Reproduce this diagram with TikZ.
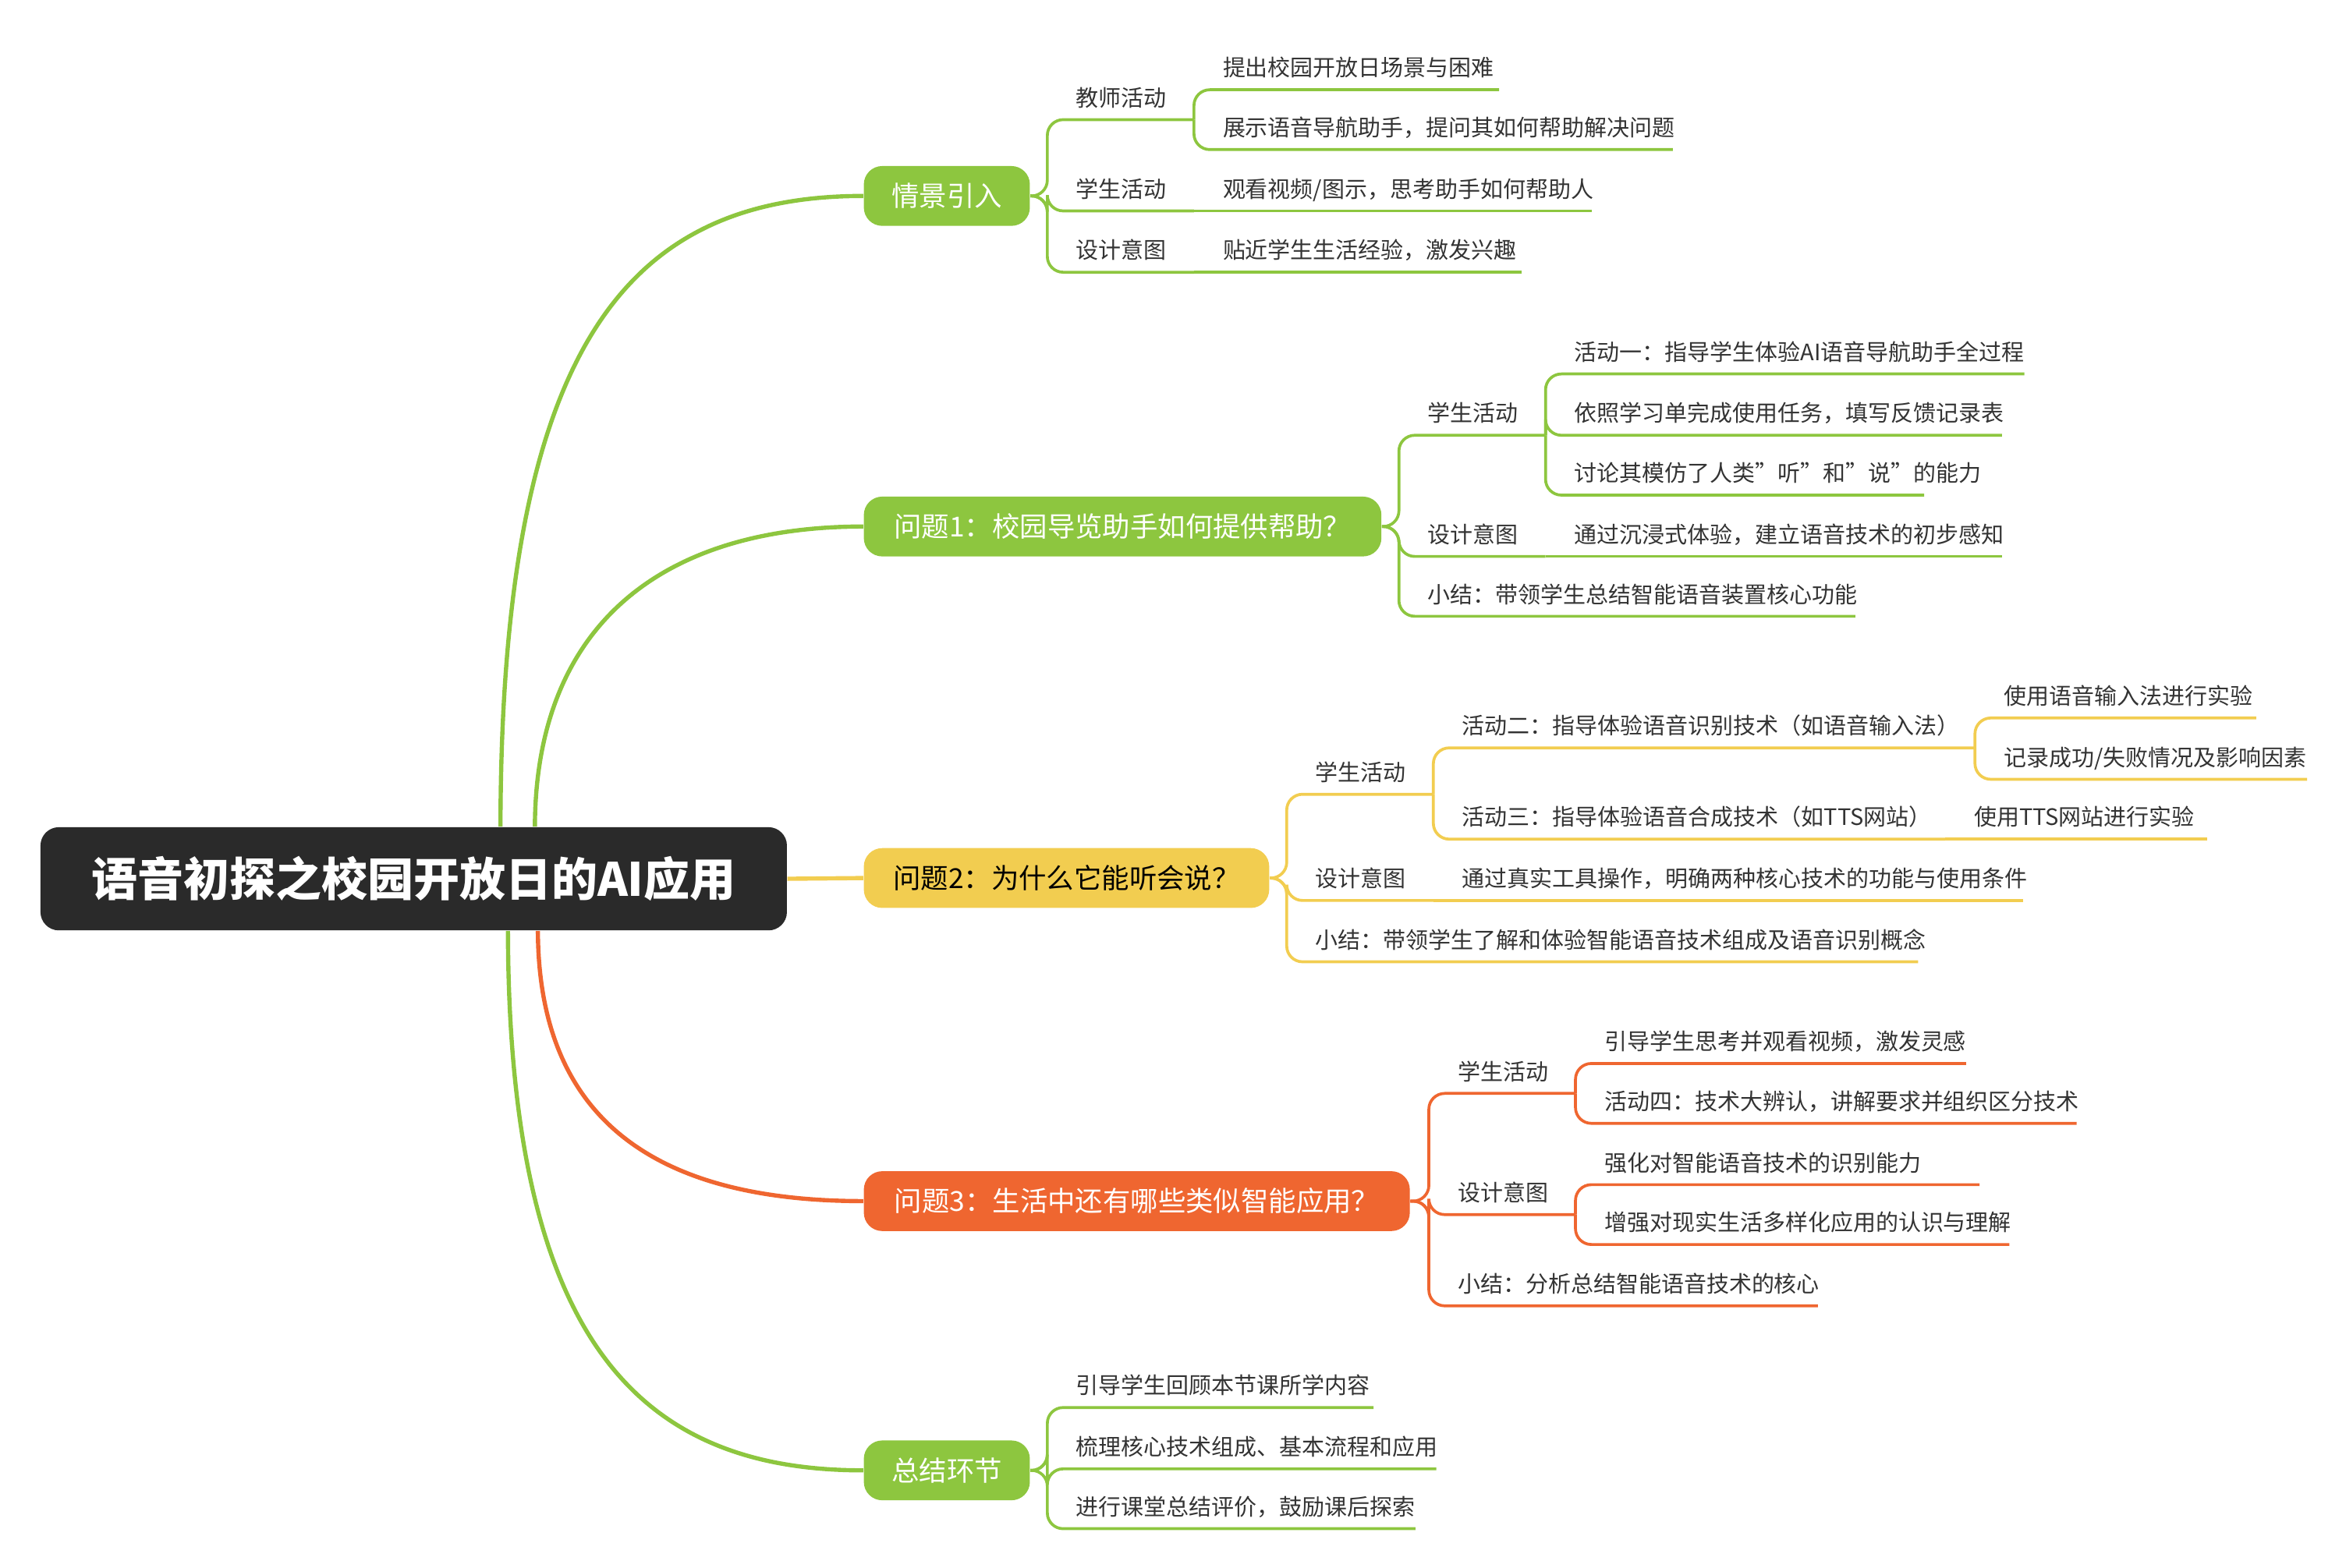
\documentclass[tikz,border=0pt]{standalone}
\usepackage{fontspec}
\setmainfont{Noto Sans CJK SC}
\usepackage{tikz}

\definecolor{grn}{HTML}{8DC63F}
\definecolor{ylw}{HTML}{F2CD50}
\definecolor{org}{HTML}{EF6630}
\definecolor{dark}{HTML}{2A2A2A}
\definecolor{txt}{HTML}{333333}

\tikzset{
    leaf/.style={anchor=base west, inner sep=0pt, text=txt, font=\fontsize{8.6}{11}\selectfont},
    topic/.style={rounded corners=7pt, minimum height=0.8cm, inner xsep=0.32cm, font=\fontsize{10.5}{12}\selectfont},
    link/.style={line width=1.1pt, rounded corners=6pt},
}

% leaf text over its underline: name, start x, y, end x, text
\newcommand\leaf[5]{%
    \node[leaf] (#1) at (#2+19,#3-9) {#5};
    \coordinate (#1-s) at (#2,#3);
    \coordinate (#1-e) at (#4,#3);
}

\begin{document}
\begin{tikzpicture}[x=0.02cm, y=-0.02cm]
    \useasboundingbox (0,0) rectangle (1568,1048);

    \node[fill=dark, text=white, rounded corners=7pt, minimum width=9.98cm, minimum height=1.38cm,
          font=\fontsize{17.5}{20}\selectfont\bfseries] (root) at (276.5,587.5) {语音初探之校园开放日的AI应用};

%1 情景引入
    \node[topic, fill=grn, text=white, minimum width=2.22cm, anchor=west] (T1) at (577,131) {情景引入};
    \leaf{T1a}{700}{80}{798}{教师活动}
    \leaf{T1a1}{798}{60}{1002}{提出校园开放日场景与困难}
    \leaf{T1a2}{798}{100}{1118}{展示语音导航助手，提问其如何帮助解决问题}
    \leaf{T1b}{700}{141}{798}{学生活动}
    \leaf{T1b1}{798}{141}{1064}{观看视频/图示，思考助手如何帮助人}
    \leaf{T1c}{700}{182}{798}{设计意图}
    \leaf{T1c1}{798}{182}{1017}{贴近学生生活经验，激发兴趣}

%2 问题1
    \node[topic, fill=grn, text=white, minimum width=6.92cm, anchor=west] (T2) at (577,352) {问题1：校园导览助手如何提供帮助？};
    \leaf{T2a}{935}{291}{1033}{学生活动}
    \leaf{T2a1}{1033}{250}{1353}{活动一：指导学生体验AI语音导航助手全过程}
    \leaf{T2a2}{1033}{291}{1338}{依照学习单完成使用任务，填写反馈记录表}
    \leaf{T2a3}{1033}{331}{1286}{讨论其模仿了人类"听"和"说"的能力}
    \leaf{T2b}{935}{372}{1033}{设计意图}
    \leaf{T2b1}{1033}{372}{1338}{通过沉浸式体验，建立语音技术的初步感知}
    \leaf{T2c}{935}{412}{1240}{小结：带领学生总结智能语音装置核心功能}

%3 问题2
    \node[topic, fill=ylw, text=black, minimum width=5.42cm, anchor=west] (T3) at (577,587) {问题2：为什么它能听会说？};
    \leaf{T3a}{860}{531}{958}{学生活动}
    \leaf{T3a1}{958}{500}{1320}{活动二：指导体验语音识别技术（如语音输入法）}
    \leaf{T3a11}{1320}{480}{1508}{使用语音输入法进行实验}
    \leaf{T3a12}{1320}{521}{1542}{记录成功/失败情况及影响因素}
    \leaf{T3a2}{958}{561}{1300}{活动三：指导体验语音合成技术（如TTS网站）}
    \leaf{T3a21}{1300}{561}{1475}{使用TTS网站进行实验}
    \leaf{T3b}{860}{602}{958}{设计意图}
    \leaf{T3b1}{958}{602}{1352}{通过真实工具操作，明确两种核心技术的功能与使用条件}
    \leaf{T3c}{860}{643}{1282}{小结：带领学生了解和体验智能语音技术组成及语音识别概念}

%4 问题3
    \node[topic, fill=org, text=white, minimum width=7.3cm, anchor=west] (T4) at (577,803) {问题3：生活中还有哪些类似智能应用？};
    \leaf{T4a}{955}{731}{1053}{学生活动}
    \leaf{T4a1}{1053}{711}{1314}{引导学生思考并观看视频，激发灵感}
    \leaf{T4a2}{1053}{751}{1388}{活动四：技术大辨认，讲解要求并组织区分技术}
    \leaf{T4b}{955}{812}{1053}{设计意图}
    \leaf{T4b1}{1053}{792}{1323}{强化对智能语音技术的识别能力}
    \leaf{T4b2}{1053}{832}{1343}{增强对现实生活多样化应用的认识与理解}
    \leaf{T4c}{955}{873}{1215}{小结：分析总结智能语音技术的核心}

%5 总结环节
    \node[topic, fill=grn, text=white, minimum width=2.22cm, anchor=west] (T5) at (577,983) {总结环节};
    \leaf{T5a}{700}{941}{918}{引导学生回顾本节课所学内容}
    \leaf{T5b}{700}{982}{960}{梳理核心技术组成、基本流程和应用}
    \leaf{T5c}{700}{1022}{946}{进行课堂总结评价，鼓励课后探索}

    % main branches
    \draw[grn, line width=1.6pt] (root.north) ++(58,0) .. controls (335,230) and (420,131) .. (T1.west);
    \draw[grn, line width=1.6pt] (root.north) ++(81,0) .. controls (358,420) and (440,352) .. (T2.west);
    \draw[ylw, line width=1.6pt] (root.east) -- (T3.west);
    \draw[org, line width=1.6pt] (root.south) ++(83,0) .. controls (360,750) and (440,803) .. (T4.west);
    \draw[grn, line width=1.6pt] (root.south) ++(63,0) .. controls (340,900) and (430,983) .. (T5.west);

    % sub branches
    \foreach \c in {T1a,T1b,T1c} \draw[link, grn] (T1.east) -- (700,131) |- (\c-e);
    \foreach \c in {T1a1,T1a2} \draw[link, grn] (T1a-e) |- (\c-e);
    \draw[link, grn] (T1b-e) -- (T1b1-e);
    \draw[link, grn] (T1c-e) -- (T1c1-e);

    \foreach \c in {T2a,T2b,T2c} \draw[link, grn] (T2.east) -- (935,352) |- (\c-e);
    \foreach \c in {T2a1,T2a2,T2a3} \draw[link, grn] (T2a-e) |- (\c-e);
    \draw[link, grn] (T2b-e) -- (T2b1-e);

    \foreach \c in {T3a,T3b,T3c} \draw[link, ylw] (T3.east) -- (860,587) |- (\c-e);
    \foreach \c in {T3a1,T3a2} \draw[link, ylw] (T3a-e) |- (\c-e);
    \foreach \c in {T3a11,T3a12} \draw[link, ylw] (T3a1-e) |- (\c-e);
    \draw[link, ylw] (T3a2-e) -- (T3a21-e);
    \draw[link, ylw] (T3b-e) -- (T3b1-e);

    \foreach \c in {T4a,T4b,T4c} \draw[link, org] (T4.east) -- (955,803) |- (\c-e);
    \foreach \c in {T4a1,T4a2} \draw[link, org] (T4a-e) |- (\c-e);
    \foreach \c in {T4b1,T4b2} \draw[link, org] (T4b-e) |- (\c-e);

    \foreach \c in {T5a,T5b,T5c} \draw[link, grn] (T5.east) -- (700,983) |- (\c-e);
\end{tikzpicture}
\end{document}
